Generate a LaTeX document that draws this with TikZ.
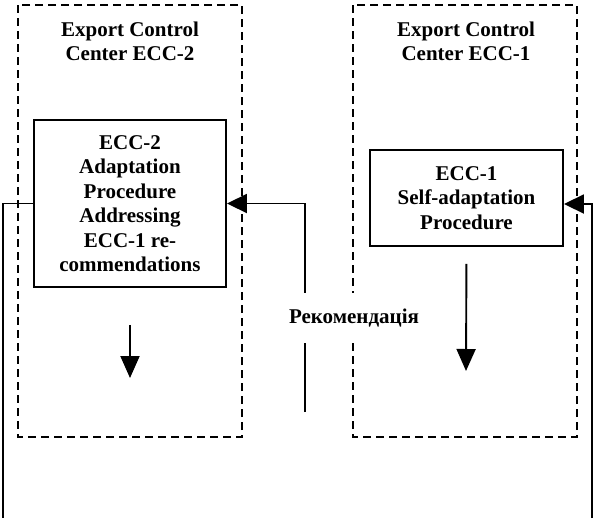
\documentclass[tikz,border=0pt]{standalone}
\usepackage{fontspec}
\setmainfont{Liberation Serif}
\usetikzlibrary{arrows.meta}
\tikzset{
  every node/.style={font=\bfseries\fontsize{21}{24.5}\selectfont, align=center, inner sep=0pt},
  center/.style={draw, dash pattern=on 8pt off 5pt, line width=1.9pt},
  procbox/.style={draw, line width=1.9pt},
  link/.style={line width=1.9pt},
  arr/.style={link, -{Triangle[length=20pt,width=19pt]}},
  downarr/.style={link, -{Triangle[length=22pt,width=19pt]}},
}
\begin{document}
\begin{tikzpicture}[x=1pt,y=-1pt]
  \useasboundingbox (0,0) rectangle (594,522);

  % the two export control centres
  \draw[center] (18,5) rectangle (242,437);
  \draw[center] (353,5) rectangle (577,437);
  \node (t2) at (130,41.5) {Export Control\\Center ECC-2};
  \node (t1) at (466,41.5) {Export Control\\Center ECC-1};

  % procedures
  \node[procbox, minimum width=192pt, minimum height=167pt] (A) at (130,203.5)
    {ECC-2\\Adaptation\\Procedure\\Addressing\\ECC-1 re-\\commendations};
  \node[procbox, minimum width=193pt, minimum height=96pt] (B) at (466.5,198)
    {ECC-1\\Self-adaptation\\Procedure};

  % recommendation passed to ECC-2
  \coordinate (r0) at (305,412);
  \draw[arr] (r0) |- (A.east);
  \node[fill=white, minimum height=50pt, inner xsep=1pt] (rec) at (354,318) {Рекомендація};

  % feedback lines
  \coordinate (l0) at (3,518);
  \draw[link] (A.west) -| (l0);
  \coordinate (p0) at (592,518);
  \draw[arr] (p0) |- ([yshift=-6pt]B.east);

  % outputs of the procedures
  \coordinate (a1) at (130,378);
  \draw[downarr, shorten <=37pt] (A.south) -- (a1);
  \coordinate (b1) at (466,371);
  \draw[downarr, shorten <=17pt] (B.south) -- (b1);
\end{tikzpicture}
\end{document}
